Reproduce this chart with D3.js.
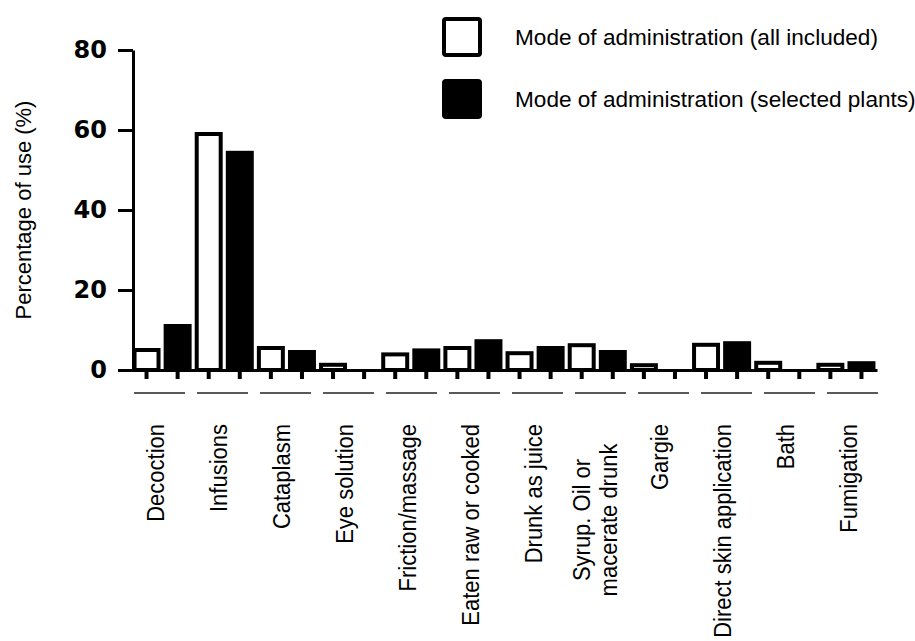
<!DOCTYPE html>
<html>
<head>
<meta charset="utf-8">
<script src="https://cdn.jsdelivr.net/npm/d3@7"></script>
<style>
  body { margin: 0; background: #fff; }
  svg { display: block; font-family: "Liberation Sans", Arial, sans-serif; }
</style>
</head>
<body>
<script>
var categories = ['Decoction', 'Infusions', 'Cataplasm', 'Eye solution', 'Friction/massage',
                  'Eaten raw or cooked', 'Drunk as juice', 'Syrup. Oil or\nmacerate drunk', 'Gargie',
                  'Direct skin application', 'Bath', 'Fumigation'];
var allIncluded = [5, 59, 5.5, 1.3, 3.9, 5.5, 4.2, 6.2, 1.2, 6.3, 1.8, 1.3];
var selectedPlants = [11, 54.3, 4.5, 0, 4.9, 7.2, 5.5, 4.5, 0, 6.7, 0, 1.7];
var seriesNames = ['Mode of administration (all included)', 'Mode of administration (selected plants)'];
var yTicks = [0, 20, 40, 60, 80];

var svg = d3.select('body').append('svg').attr('width', 915).attr('height', 641);

// one entry per bar, white then black inside each category
var bars = [];
categories.forEach(function(c, i) {
    bars.push({ key: c + '|0', s: 0, v: allIncluded[i] });
    bars.push({ key: c + '|1', s: 1, v: selectedPlants[i] });
});

var y = d3.scaleLinear().domain([0, 80]).range([370, 50]);
var xb = d3.scaleBand().domain(bars.map(function(d) { return d.key; }))
    .range([131, 877]).paddingInner(0.1).paddingOuter(0.05);
// slots for the underlines and category labels
var xl = d3.scaleBand().domain(categories).range([128, 884]).paddingInner(0.19).paddingOuter(0.095);

/*BARS*/
svg.selectAll('rect.bar')
    .data(bars)
    .enter().append('rect')
        .attr('class', 'bar')
        .attr('x', function(d) { return xb(d.key) + 2; })
        .attr('width', xb.bandwidth() - 4)
        .attr('y', function(d) { return y(d.v); })
        .attr('height', function(d) { return y(0) - y(d.v); })
        .attr('fill', function(d) { return d.s === 0 ? '#fff' : '#000'; })
        .attr('stroke', '#000')
        .attr('stroke-width', 4);

/*Y AXIS*/
var yAxis = svg.append('g')
    .attr('transform', 'translate(133,0)')
    .call(d3.axisLeft(y).tickValues(yTicks).tickSize(15).tickSizeOuter(0).tickPadding(11));
yAxis.select('.domain').attr('stroke-width', 3);
yAxis.selectAll('.tick line').attr('stroke-width', 3);
yAxis.selectAll('.tick text')
    .attr('font-family', '"DejaVu Sans", Arial, sans-serif')
    .attr('font-weight', 'bold')
    .attr('font-size', 24)
    .attr('fill', '#000');

svg.append('text')
    .attr('transform', 'translate(31,' + y(40) + ') rotate(-90)')
    .attr('text-anchor', 'middle')
    .attr('font-size', 22)
    .text('Percentage of use (%)');

/*X AXIS*/
var xAxis = svg.append('g')
    .attr('transform', 'translate(0,' + y(0) + ')')
    .call(d3.axisBottom(xb).tickSize(9).tickSizeOuter(0).tickFormat(''));
xAxis.select('.domain').attr('stroke-width', 3);
xAxis.selectAll('.tick line').attr('stroke-width', 4);

/*UNDERLINES + LABELS*/
svg.selectAll('line.under')
    .data(categories)
    .enter().append('line')
        .attr('class', 'under')
        .attr('x1', function(d) { return xl(d); })
        .attr('x2', function(d) { return xl(d) + xl.bandwidth(); })
        .attr('y1', 393).attr('y2', 393)
        .attr('stroke', '#222')
        .attr('stroke-width', 1.6);

var labels = svg.selectAll('text.cat')
    .data(categories)
    .enter().append('text')
        .attr('class', 'cat')
        .attr('font-size', 22)
        .attr('transform', function(d) {
            var cx = xl(d) + xl.bandwidth() / 2;
            return d.indexOf('\n') < 0
                ? 'translate(' + (cx + 4) + ',424) rotate(-90) scale(1,1.06)'
                : 'translate(' + (cx - 11) + ',520) rotate(-90) scale(1,1.06)';
        })
        .attr('text-anchor', function(d) { return d.indexOf('\n') < 0 ? 'end' : 'middle'; });
labels.selectAll('tspan')
    .data(function(d) { return d.split('\n'); })
    .enter().append('tspan')
        .attr('x', 0)
        .attr('dy', function(d, i) { return i === 0 ? 0 : 26; })
        .text(function(d) { return d; });

/*LEGEND*/
var legend = svg.selectAll('g.legend')
    .data(seriesNames)
    .enter().append('g')
        .attr('class', 'legend')
        .attr('transform', function(d, i) { return 'translate(444,' + (19 + i * 62) + ')'; });
legend.append('rect')
    .attr('width', 36).attr('height', 36).attr('rx', 2)
    .attr('fill', function(d, i) { return i === 0 ? '#fff' : '#000'; })
    .attr('stroke', '#000')
    .attr('stroke-width', 4);
legend.append('text')
    .attr('x', 71).attr('y', 20)
    .attr('dominant-baseline', 'middle')
    .attr('font-size', 22.6)
    .text(function(d) { return d; });
</script>
</body>
</html>
